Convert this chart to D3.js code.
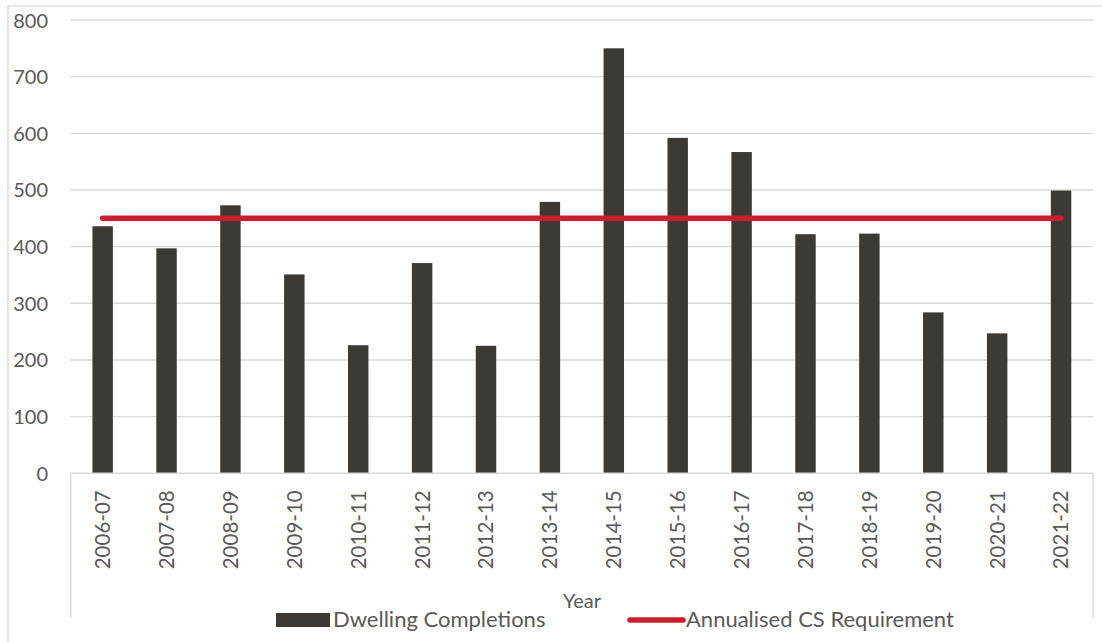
<!DOCTYPE html>
<html>
<head>
<meta charset="utf-8">
<script src="https://cdn.jsdelivr.net/npm/d3@7"></script>
<style>
  html, body { margin: 0; padding: 0; background: #fff; }
  svg { display: block; }
  text { font-family: Lato, "Open Sans", "Liberation Sans", sans-serif; fill: #595959; }
</style>
</head>
<body>
<svg id="chart" width="1102" height="642"></svg>
<script>
// Financial years shown on the category axis
const years = ["2006-07","2007-08","2008-09","2009-10","2010-11","2011-12","2012-13","2013-14",
               "2014-15","2015-16","2016-17","2017-18","2018-19","2019-20","2020-21","2021-22"];
// Net dwelling completions per year
const completions = [436, 397, 473, 351, 226, 371, 225, 479, 750, 592, 567, 422, 423, 284, 247, 499];
// Annualised Core Strategy requirement (constant per year)
const requirement = 450;
// Value-axis ticks
const yTicks = [0, 100, 200, 300, 400, 500, 600, 700, 800];

const svg = d3.select("#chart");
const W = 1102, H = 642;
const plot = { left: 70.7, right: 1093, top: 20, bottom: 473.3 };

const x = d3.scaleBand()
  .domain(years)
  .range([plot.left, plot.right])
  .paddingInner(0.68)
  .paddingOuter(0.34);

const y = d3.scaleLinear()
  .domain([0, 800])
  .range([plot.bottom, plot.top]);

const grey = "#d9d9d9";

// Chart area border
svg.append("rect")
  .attr("x", 8).attr("y", 6)
  .attr("width", W + 20).attr("height", H + 20)
  .attr("fill", "none").attr("stroke", grey).attr("stroke-width", 1.3);

// Horizontal gridlines
svg.append("g").selectAll("line")
  .data(yTicks.filter(d => d > 0))
  .join("line")
  .attr("x1", plot.left).attr("x2", plot.right)
  .attr("y1", d => y(d)).attr("y2", d => y(d))
  .attr("stroke", grey).attr("stroke-width", 1.4);

// Value-axis labels
const yAxis = d3.axisLeft(y).tickValues(yTicks).tickSize(0).tickPadding(0);
const gy = svg.append("g")
  .attr("transform", "translate(48,0)")
  .call(yAxis);
gy.select(".domain").remove();
gy.selectAll("text")
  .attr("x", 0)
  .attr("dy", "0.35em")
  .style("font-family", "Lato, 'Open Sans', sans-serif")
  .style("font-size", "20px")
  .style("fill", "#595959");

// Bars
svg.append("g").selectAll("rect")
  .data(years.map((yr, i) => ({ yr, v: completions[i] })))
  .join("rect")
  .attr("x", d => x(d.yr))
  .attr("width", x.bandwidth())
  .attr("y", d => y(d.v))
  .attr("height", d => y(0) - y(d.v))
  .attr("fill", "#3d3a35");

// Category axis line and end borders of the label box
const boxBottom = 617;
svg.append("line")
  .attr("x1", plot.left).attr("x2", plot.right)
  .attr("y1", y(0)).attr("y2", y(0))
  .attr("stroke", grey).attr("stroke-width", 1.4);
svg.append("g").selectAll("line")
  .data(x.range())
  .join("line")
  .attr("x1", d => d).attr("x2", d => d)
  .attr("y1", y(0)).attr("y2", boxBottom)
  .attr("stroke", grey).attr("stroke-width", 1.4);

// Category labels, rotated
const xAxis = d3.axisBottom(x).tickSize(0).tickPadding(0);
const gx = svg.append("g")
  .attr("transform", `translate(0,${y(0)})`)
  .call(xAxis);
gx.select(".domain").remove();
gx.selectAll("text")
  .attr("transform", "translate(0,17) rotate(-90)")
  .attr("x", 0).attr("y", 0)
  .attr("dy", "0.36em")
  .attr("text-anchor", "end")
  .style("font-family", "Lato, 'Open Sans', sans-serif")
  .style("font-size", "20.5px")
  .style("fill", "#595959");

// Requirement line across the category centres
const cx = d => x(d) + x.bandwidth() / 2;
svg.append("path")
  .datum(years)
  .attr("d", d3.line().x(cx).y(() => y(requirement)))
  .attr("fill", "none")
  .attr("stroke", "#c81e2e")
  .attr("stroke-width", 5.5)
  .attr("stroke-linecap", "round");

// Axis title
svg.append("text")
  .attr("x", 582).attr("y", 608)
  .attr("text-anchor", "middle")
  .style("font-size", "20px")
  .text("Year");

// Legend
const legend = svg.append("g");
legend.append("rect")
  .attr("x", 276).attr("y", 613)
  .attr("width", 54).attr("height", 14)
  .attr("fill", "#3d3a35");
legend.append("text")
  .attr("x", 333).attr("y", 627)
  .style("font-size", "22px")
  .text("Dwelling Completions");
legend.append("line")
  .attr("x1", 630).attr("x2", 683)
  .attr("y1", 620).attr("y2", 620)
  .attr("stroke", "#c81e2e").attr("stroke-width", 5.5)
  .attr("stroke-linecap", "round");
legend.append("text")
  .attr("x", 686).attr("y", 627)
  .style("font-size", "22px")
  .text("Annualised CS Requirement");
</script>
</body>
</html>
